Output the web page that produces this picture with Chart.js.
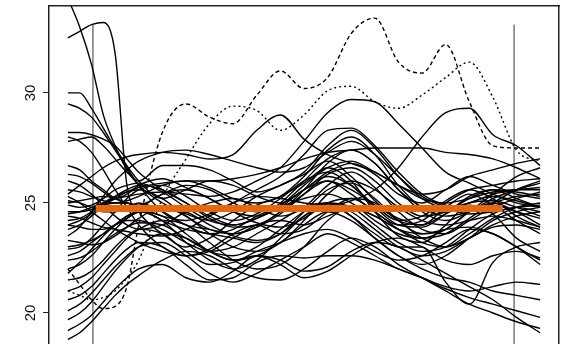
<!DOCTYPE html>
<html>
<head>
<meta charset="utf-8">
<script src="https://cdn.jsdelivr.net/npm/chart.js@4/dist/chart.umd.min.js"></script>
<style>
  html, body { margin: 0; padding: 0; background: #fff; overflow: hidden; }
  canvas { display: block; }
</style>
</head>
<body>
<canvas id="chart" width="564" height="344"></canvas>
<script>
// Sampling positions shared by every curve (denser near the left edge)
const xGrid = [0, 2.5, 5, 7.5, 10, 12.5, 15, 20, 25, 30, 35, 40, 45, 50, 55, 60, 65, 70, 75, 80, 85, 90, 95, 100];
const yTicks = [20, 25, 30];

// Individual curves
const c01 = [34.3, 33.0, 31.3, 29.0, 27.6, 26.5, 25.8, 25.0, 24.5, 24.2, 24.6, 25.3, 25.8, 26.3, 26.9, 26.2, 25.1, 24.2, 24.0, 24.8, 25.4, 24.9, 24.2, 23.6];
const c02 = [32.5, 32.8, 33.1, 33.2, 31.8, 25.8, 24.6, 23.6, 23.0, 23.4, 24.2, 24.9, 25.3, 25.9, 26.6, 26.0, 24.6, 23.5, 23.2, 24.0, 24.9, 24.5, 23.4, 22.8];
const c03 = [30.0, 30.0, 29.3, 28.4, 27.5, 26.7, 26.0, 25.2, 25.6, 26.0, 25.8, 25.3, 25.0, 25.6, 26.4, 26.8, 26.3, 25.4, 25.0, 25.6, 26.2, 25.8, 25.4, 25.2];
const c04 = [29.5, 29.3, 28.9, 28.2, 27.4, 26.6, 25.8, 24.6, 24.0, 23.8, 23.6, 23.9, 24.6, 25.4, 26.0, 25.6, 24.9, 24.3, 24.0, 24.5, 25.0, 25.1, 24.8, 24.4];
const c05 = [28.2, 28.2, 28.1, 27.9, 27.6, 27.0, 26.4, 25.6, 25.0, 24.4, 24.0, 24.3, 25.0, 26.0, 27.0, 27.4, 26.8, 25.6, 24.6, 24.2, 24.6, 25.2, 25.6, 25.9];
const c06 = [28.0, 27.8, 27.3, 26.5, 25.6, 24.8, 24.0, 23.0, 22.6, 22.9, 23.6, 24.0, 23.6, 23.8, 24.6, 25.2, 25.0, 24.2, 23.4, 23.0, 23.6, 24.3, 24.8, 25.0];
const c07 = [27.8, 27.9, 28.0, 27.6, 27.0, 26.4, 26.0, 26.7, 26.7, 26.5, 26.0, 25.5, 25.8, 26.4, 27.6, 28.3, 27.5, 26.2, 25.2, 24.8, 25.0, 25.4, 25.6, 25.7];
const c08 = [26.7, 26.5, 26.0, 25.6, 25.2, 25.0, 24.9, 25.4, 25.8, 25.6, 25.0, 24.6, 24.9, 25.8, 26.6, 26.9, 26.4, 25.8, 25.4, 25.6, 26.2, 26.5, 26.8, 27.0];
const c09 = [26.3, 26.2, 25.9, 25.5, 25.2, 25.4, 25.8, 26.1, 25.7, 25.2, 24.6, 24.4, 24.8, 25.6, 26.0, 25.4, 24.6, 24.0, 24.2, 25.0, 25.6, 25.8, 26.0, 26.1];
const c10 = [26.0, 25.8, 25.4, 24.9, 24.4, 24.0, 23.8, 24.0, 24.6, 25.0, 25.2, 24.8, 24.4, 24.8, 25.8, 26.4, 25.7, 24.6, 23.8, 23.6, 24.2, 24.8, 25.2, 25.5];
const c11 = [25.6, 25.5, 25.3, 25.1, 25.0, 25.1, 25.3, 25.8, 26.0, 25.7, 25.2, 25.0, 25.3, 26.2, 27.4, 28.0, 27.2, 25.8, 24.8, 24.6, 25.0, 25.3, 25.1, 24.8];
const c12 = [25.1, 25.0, 24.8, 24.6, 24.6, 24.8, 25.0, 24.6, 24.0, 23.6, 23.8, 24.4, 24.9, 25.6, 26.2, 25.8, 24.9, 24.2, 24.4, 25.1, 25.6, 25.2, 24.4, 23.9];
const c13 = [24.9, 24.8, 24.9, 25.2, 25.6, 25.8, 25.9, 25.5, 24.8, 24.2, 24.0, 24.3, 24.8, 25.2, 25.4, 25.0, 24.2, 23.6, 23.4, 23.8, 24.6, 25.4, 26.2, 26.6];
const c14 = [24.6, 24.6, 24.7, 24.9, 25.0, 25.0, 24.8, 24.2, 23.8, 23.6, 23.4, 23.2, 23.6, 24.6, 25.6, 25.9, 25.2, 24.2, 23.6, 23.8, 24.6, 25.0, 24.6, 24.0];
const c15 = [24.2, 24.3, 24.6, 25.0, 25.3, 25.5, 25.6, 25.2, 24.4, 23.8, 23.6, 23.9, 24.5, 25.4, 26.3, 26.6, 26.0, 25.0, 24.4, 24.6, 25.2, 25.6, 25.5, 25.3];
const c16 = [24.0, 23.9, 23.8, 23.8, 24.0, 24.3, 24.7, 25.4, 25.6, 25.2, 24.6, 24.1, 23.9, 24.3, 25.0, 25.2, 24.6, 23.8, 23.2, 23.0, 23.4, 24.0, 24.4, 24.6];
const c17 = [23.8, 24.0, 24.4, 24.9, 25.3, 25.6, 25.8, 25.6, 25.0, 24.3, 23.9, 24.0, 24.6, 25.6, 26.8, 27.4, 26.8, 25.6, 24.8, 24.4, 24.6, 25.0, 25.3, 25.4];
const c18 = [23.3, 23.2, 23.1, 23.2, 23.5, 23.9, 24.3, 24.8, 24.6, 24.0, 23.5, 23.3, 23.6, 24.4, 25.0, 24.8, 24.0, 23.2, 22.8, 23.0, 23.8, 24.5, 24.8, 24.6];
const c19 = [22.9, 23.0, 23.4, 24.0, 24.6, 25.2, 25.6, 25.8, 25.3, 24.6, 24.2, 24.5, 25.2, 26.0, 26.4, 25.8, 24.8, 24.0, 23.9, 24.5, 25.3, 25.6, 25.2, 24.8];
const c20 = [22.4, 22.5, 22.8, 23.2, 23.6, 23.9, 24.1, 24.0, 23.4, 22.8, 22.6, 23.0, 23.8, 24.6, 25.0, 24.6, 23.8, 23.0, 22.6, 22.8, 23.4, 23.9, 24.0, 23.8];
const c21 = [22.0, 22.2, 22.6, 23.2, 23.8, 24.3, 24.6, 24.8, 24.4, 23.6, 23.0, 22.8, 23.2, 24.2, 25.4, 26.0, 25.6, 24.8, 24.2, 24.0, 24.2, 24.4, 24.2, 23.9];
const c22 = [21.5, 21.6, 21.9, 22.4, 23.0, 23.5, 23.8, 23.6, 22.8, 22.2, 22.3, 22.8, 23.2, 23.6, 23.8, 23.4, 22.8, 22.4, 22.6, 23.2, 23.8, 23.6, 23.0, 22.4];
const c23 = [21.0, 21.2, 21.6, 22.2, 22.8, 23.4, 23.8, 24.2, 24.0, 23.2, 22.4, 22.0, 22.2, 23.0, 24.2, 24.8, 24.4, 23.8, 23.6, 23.8, 23.9, 23.6, 23.0, 22.2];
const c24 = [20.6, 20.8, 21.2, 21.8, 22.4, 22.9, 23.2, 23.0, 22.2, 21.5, 21.6, 22.3, 22.6, 22.5, 22.6, 22.6, 22.4, 22.0, 21.6, 21.1, 20.7, 20.4, 20.1, 19.8];
const c25 = [20.1, 20.4, 20.9, 21.5, 22.1, 22.6, 23.0, 23.2, 22.6, 21.8, 21.4, 21.8, 22.4, 23.0, 23.6, 23.2, 22.6, 22.0, 21.6, 21.2, 21.0, 21.2, 21.4, 21.3];
const c26 = [19.7, 20.0, 20.5, 21.2, 21.9, 22.5, 23.0, 23.6, 23.4, 22.8, 22.4, 22.6, 23.2, 24.0, 24.6, 24.2, 23.4, 22.6, 22.0, 21.6, 21.4, 21.0, 20.8, 20.6];
const c27 = [19.2, 19.5, 19.9, 20.5, 21.1, 21.6, 22.0, 22.2, 21.6, 21.4, 21.9, 22.6, 22.4, 21.9, 22.1, 22.8, 23.2, 23.0, 22.4, 21.8, 21.2, 20.6, 19.8, 19.1];
const c28 = [18.8, 19.1, 19.6, 20.2, 20.8, 21.3, 21.7, 22.4, 22.8, 22.6, 22.0, 21.6, 21.5, 22.0, 22.8, 23.4, 23.0, 22.2, 21.6, 21.0, 20.4, 20.0, 19.6, 19.3];
const c29 = [22.6, 22.8, 23.2, 23.6, 24.0, 24.2, 24.2, 23.8, 23.2, 22.8, 23.0, 23.6, 24.2, 24.8, 25.0, 24.4, 23.6, 23.0, 23.0, 21.4, 20.4, 22.3, 23.0, 23.2];
const c30 = [25.4, 25.8, 26.2, 26.6, 26.9, 27.1, 27.2, 27.3, 27.2, 27.0, 27.2, 28.3, 29.0, 27.9, 27.2, 26.8, 26.4, 25.8, 25.2, 25.0, 25.2, 25.5, 25.6, 25.6];
const c31 = [24.5, 24.6, 24.8, 25.0, 25.2, 25.3, 25.4, 25.5, 25.4, 25.3, 25.5, 26.0, 26.6, 27.8, 29.1, 29.7, 29.6, 28.6, 27.5, 26.4, 25.9, 25.4, 25.0, 24.8];
const c32 = [25.0, 25.1, 25.2, 25.3, 25.2, 25.0, 24.8, 24.4, 24.2, 24.5, 25.0, 25.3, 25.2, 25.0, 24.9, 25.1, 25.6, 26.6, 28.0, 29.1, 29.3, 28.1, 27.6, 26.7];
const c33 = [24.0, 24.2, 24.5, 24.9, 25.2, 25.5, 25.7, 25.9, 26.0, 26.0, 26.1, 26.3, 26.6, 27.0, 27.3, 27.4, 27.5, 27.5, 27.5, 27.3, 27.2, 27.0, 26.6, 26.1];
const c34 = [23.5, 23.9, 24.6, 25.3, 26.0, 26.5, 26.9, 27.3, 27.4, 27.2, 26.9, 26.6, 26.4, 26.6, 27.3, 27.8, 27.2, 26.2, 25.3, 24.8, 24.5, 24.6, 24.8, 24.9];
const c35 = [24.4, 24.3, 24.1, 23.9, 23.8, 23.7, 23.6, 23.5, 23.8, 24.4, 25.0, 25.6, 26.2, 27.2, 28.3, 28.4, 27.6, 26.4, 25.4, 24.9, 24.8, 24.9, 24.6, 24.3];
const c36 = [23.0, 23.1, 23.3, 23.6, 24.0, 24.4, 24.6, 24.2, 23.2, 22.4, 22.0, 22.4, 23.4, 24.4, 24.9, 24.4, 23.4, 22.6, 22.2, 22.6, 23.4, 24.2, 24.6, 24.8];
const c37 = [25.3, 25.0, 24.6, 24.2, 23.8, 23.5, 23.2, 22.8, 22.6, 22.8, 23.4, 24.0, 24.2, 24.0, 24.4, 24.8, 24.4, 23.8, 23.4, 23.6, 24.3, 25.0, 25.6, 26.0];
const c38 = [21.8, 22.3, 22.9, 23.5, 24.0, 24.4, 24.6, 24.4, 23.6, 22.8, 22.4, 22.6, 22.2, 21.6, 21.9, 22.6, 23.2, 23.4, 23.0, 22.4, 22.2, 22.6, 22.8, 22.5];

// The two highlighted curves
const dashedCurve = [22.0, 21.3, 20.6, 20.2, 20.3, 21.2, 24.0, 28.2, 29.5, 28.9, 28.6, 29.9, 31.0, 30.2, 30.7, 32.7, 33.4, 31.4, 30.9, 32.2, 29.6, 27.6, 27.5, 27.5];
const dottedCurve = [21.0, 20.8, 20.6, 20.7, 21.0, 21.6, 22.4, 25.2, 27.0, 28.6, 29.4, 29.2, 28.3, 29.0, 30.1, 30.3, 29.6, 29.3, 29.9, 30.7, 31.4, 29.8, 27.4, 26.9];

// Overall mean level and its span; interval boundaries
const meanLevel = 24.75;
const meanSpan = [5.9, 92.1];
const boundaries = [5.3, 94.5];
const boundaryTop = 33.1;

const solidCurves = [c01, c02, c03, c04, c05, c06, c07, c08, c09, c10, c11, c12, c13, c14, c15, c16, c17, c18, c19,
  c20, c21, c22, c23, c24, c25, c26, c27, c28, c29, c30, c31, c32, c33, c34, c35, c36, c37, c38];

const toPoints = vals => vals.map((v, i) => ({ x: xGrid[i], y: v }));

const datasets = [];
// mean line on top
datasets.push({
  data: meanSpan.map(x => ({ x, y: meanLevel })),
  borderColor: '#E4690E', borderWidth: 7, order: 0, cubicInterpolationMode: 'default', tension: 0
});
solidCurves.forEach(vals => datasets.push({
  data: toPoints(vals), borderColor: '#000', borderWidth: 1.4, order: 2
}));
datasets.push({ data: toPoints(dashedCurve), borderColor: '#000', borderWidth: 1.4, borderDash: [4, 3], order: 2 });
datasets.push({ data: toPoints(dottedCurve), borderColor: '#000', borderWidth: 1.4, borderDash: [2, 3], order: 2 });
boundaries.forEach(x => datasets.push({
  data: [{ x, y: boundaryTop }, { x, y: 15 }],
  borderColor: '#8a8a8a', borderWidth: 1, order: 3, tension: 0, cubicInterpolationMode: 'default'
}));

const Y_MIN = 18.59, Y_MAX = 33.95;
const frame = { display: true, color: '#222', width: 1.5 };
const noPad = s => { s.paddingTop = 0; s.paddingBottom = 0; s.paddingLeft = 0; s.paddingRight = 0; };

new Chart(document.getElementById('chart'), {
  type: 'line',
  data: { datasets },
  options: {
    responsive: false,
    animation: false,
    devicePixelRatio: 1,
    layout: { padding: 0 },
    plugins: { legend: { display: false }, tooltip: { enabled: false } },
    elements: {
      point: { radius: 0 },
      line: { cubicInterpolationMode: 'monotone', fill: false }
    },
    scales: {
      x: { type: 'linear', min: -4, max: 104, display: false },
      xTop: {
        type: 'linear', position: 'top', min: -4, max: 104,
        grid: { display: false }, ticks: { display: false }, border: frame,
        afterFit: s => { s.height = 6; noPad(s); }
      },
      y: {
        type: 'linear', position: 'left', min: Y_MIN, max: Y_MAX,
        afterFit: s => { s.width = 49; noPad(s); },
        afterBuildTicks: s => { s.ticks = yTicks.map(v => ({ value: v })); },
        grid: { display: true, drawOnChartArea: false, drawTicks: true, tickLength: 6, color: '#222' },
        border: frame,
        ticks: {
          minRotation: 90, maxRotation: 90, crossAlign: 'center', padding: 4,
          color: '#111', font: { family: 'Liberation Sans, Arial, sans-serif', size: 15 }
        }
      },
      yRight: {
        type: 'linear', position: 'right', min: Y_MIN, max: Y_MAX,
        grid: { display: false }, ticks: { display: false }, border: frame,
        afterFit: s => { s.width = 5; noPad(s); }
      }
    }
  }
});
</script>
</body>
</html>
